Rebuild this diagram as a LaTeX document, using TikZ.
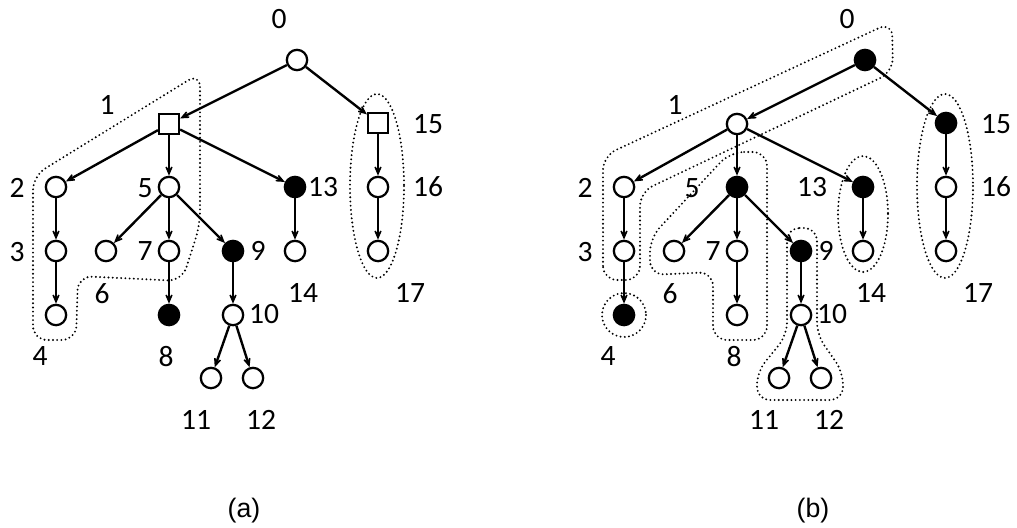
\documentclass[tikz,border=0pt]{standalone}
\usepackage{fontspec}
\setmainfont{Carlito}
\newfontfamily\capfont{Liberation Sans}
\usetikzlibrary{arrows.meta}

\begin{document}
\begin{tikzpicture}[
  x = 0.025cm, y = -0.025cm,
  every node/.style = {font=\fontsize{21}{24}\selectfont},
  vtx/.style = {circle, draw, line width=1.6pt, fill=white,
    minimum size=14.5pt, inner sep=0pt},
  vtx_full/.style = {vtx, fill=black},
  vtx_sq/.style   = {rectangle, draw, line width=1.6pt, fill=white,
    minimum size=14.2pt, inner sep=0pt},
  arr/.style  = {-{Stealth[length=10.5pt, width=9pt, inset=6.5pt]}, line width=1.7pt},
  lbl/.style  = {inner sep=0pt},
  hull/.style = {line width=1.5pt, line cap=round,
    dash pattern=on 0pt off 3pt, rounded corners=10pt},
  caption_txt/.style = {font=\capfont\fontsize{19}{22}\selectfont}
]
\useasboundingbox (0,0) rectangle (1017,527);

% ---- tree (a)
\node[vtx]      (a0)  at (297,60)  {};
\node[vtx_sq]   (a1)  at (169,124) {};
\node[vtx]      (a2)  at (56,187)  {};
\node[vtx]      (a3)  at (56,251)  {};
\node[vtx]      (a4)  at (56,315)  {};
\node[vtx]      (a5)  at (169,187) {};
\node[vtx]      (a6)  at (106,251) {};
\node[vtx]      (a7)  at (169,251) {};
\node[vtx_full] (a8)  at (169,315) {};
\node[vtx_full] (a9)  at (233,251) {};
\node[vtx]      (a10) at (233,315) {};
\node[vtx]      (a11) at (211,378) {};
\node[vtx]      (a12) at (253,378) {};
\node[vtx_full] (a13) at (295,187) {};
\node[vtx]      (a14) at (295,251) {};
\node[vtx_sq]   (a15) at (378,123) {};
\node[vtx]      (a16) at (378,187) {};
\node[vtx]      (a17) at (378,251) {};

\node[lbl] (la0)  at (279,19)  {0};
\node[lbl] (la1)  at (107,105) {1};
\node[lbl] (la2)  at (17,188)  {2};
\node[lbl] (la3)  at (17,252)  {3};
\node[lbl] (la4)  at (40,356)  {4};
\node[lbl] (la5)  at (145,188) {5};
\node[lbl] (la6)  at (102,294) {6};
\node[lbl] (la7)  at (145,251) {7};
\node[lbl] (la8)  at (166,357) {8};
\node[lbl] (la9)  at (258,251) {9};
\node[lbl] (la10) at (264,314) {10};
\node[lbl] (la11) at (196,420) {11};
\node[lbl] (la12) at (261,420) {12};
\node[lbl] (la13) at (323,187) {13};
\node[lbl] (la14) at (303,293) {14};
\node[lbl] (la15) at (428,124) {15};
\node[lbl] (la16) at (428,187) {16};
\node[lbl] (la17) at (410,293) {17};

\draw[hull] (200,73) -- (200,225) -- (182,281) -- (78,276)
  -- (76,340) -- (33,340) -- (33,176) -- cycle;
\draw[hull] (377,186) ellipse [x radius=27, y radius=92];

\path[arr] (a0) edge (a1) edge (a15)
  (a1) edge (a2) edge (a5) edge (a13)
  (a2) edge (a3)  (a3) edge (a4)
  (a5) edge (a6) edge (a7) edge (a9)
  (a7) edge (a8)  (a9) edge (a10)
  (a10) edge (a11) edge (a12)
  (a13) edge (a14)  (a15) edge (a16)  (a16) edge (a17);

\node[caption_txt] (capa) at (244,511) {(a)};

% ---- tree (b)
\node[vtx_full] (b0)  at (865,60)  {};
\node[vtx]      (b1)  at (737,124) {};
\node[vtx]      (b2)  at (624,187) {};
\node[vtx]      (b3)  at (624,251) {};
\node[vtx_full] (b4)  at (624,315) {};
\node[vtx_full] (b5)  at (737,187) {};
\node[vtx]      (b6)  at (674,251) {};
\node[vtx]      (b7)  at (737,251) {};
\node[vtx]      (b8)  at (737,315) {};
\node[vtx_full] (b9)  at (801,251) {};
\node[vtx]      (b10) at (801,315) {};
\node[vtx]      (b11) at (779,378) {};
\node[vtx]      (b12) at (821,378) {};
\node[vtx_full] (b13) at (863,187) {};
\node[vtx]      (b14) at (863,251) {};
\node[vtx_full] (b15) at (946,123) {};
\node[vtx]      (b16) at (946,187) {};
\node[vtx]      (b17) at (946,251) {};

\node[lbl] (lb0)  at (847,19)  {0};
\node[lbl] (lb1)  at (675,105) {1};
\node[lbl] (lb2)  at (585,188) {2};
\node[lbl] (lb3)  at (585,252) {3};
\node[lbl] (lb4)  at (608,356) {4};
\node[lbl] (lb5)  at (692,188) {5};
\node[lbl] (lb6)  at (670,294) {6};
\node[lbl] (lb7)  at (713,251) {7};
\node[lbl] (lb8)  at (734,357) {8};
\node[lbl] (lb9)  at (826,251) {9};
\node[lbl] (lb10) at (832,314) {10};
\node[lbl] (lb11) at (764,420) {11};
\node[lbl] (lb12) at (829,420) {12};
\node[lbl] (lb13) at (812,187) {13};
\node[lbl] (lb14) at (871,293) {14};
\node[lbl] (lb15) at (996,124) {15};
\node[lbl] (lb16) at (996,187) {16};
\node[lbl] (lb17) at (978,293) {17};

\draw[hull] (603,280) -- (603,156) -- (892,22) -- (893,72)
  -- (640,192) -- (640,280) -- cycle;
\draw[hull] (730,152) -- (767,152) -- (767,340) -- (713,340)
  -- (713,272) -- (650,275) -- (650,238) -- cycle;
\draw[hull, rounded corners=9pt] (787,228) -- (817,228) -- (817,335)
  -- (843,372) -- (843,400) -- (757,400) -- (757,372) -- (787,335) -- cycle;
\draw[hull] (624,315) circle [radius=22];
\draw[hull] (863,214) ellipse [x radius=25, y radius=58];
\draw[hull] (945,186) ellipse [x radius=28, y radius=92];

\path[arr] (b0) edge (b1) edge (b15)
  (b1) edge (b2) edge (b5) edge (b13)
  (b2) edge (b3)  (b3) edge (b4)
  (b5) edge (b6) edge (b7) edge (b9)
  (b7) edge (b8)  (b9) edge (b10)
  (b10) edge (b11) edge (b12)
  (b13) edge (b14)  (b15) edge (b16)  (b16) edge (b17);

\node[caption_txt] (capb) at (813,511) {(b)};
\end{tikzpicture}
\end{document}
